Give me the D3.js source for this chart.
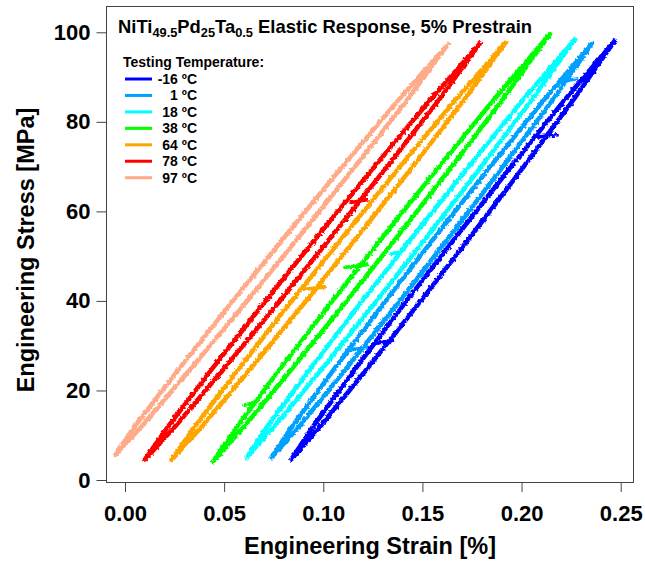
<!DOCTYPE html>
<html><head><meta charset="utf-8">
<script src="https://cdn.jsdelivr.net/npm/d3@7"></script>
<style>
body{margin:0;background:#fff}
text{font-family:"Liberation Sans",Arial,Helvetica,sans-serif;font-weight:bold;fill:#000}
</style>
</head><body>
<svg id="chart" width="645" height="562"></svg>
<script>
// ---- data ----
const seriesLabels = ["-16 ºC", "1 ºC", "18 ºC", "38 ºC", "64 ºC", "78 ºC", "97 ºC"];
const seriesColors = ["#0000ff", "#00a0ff", "#00ffff", "#00ff00", "#ffa500", "#ff0000", "#ffaa88"];
const stressBottom = [4.7, 5.1, 5.1, 4.2, 4.5, 4.6, 5.6];
const stressTop    = [98.1, 97.4, 98.5, 99.6, 97.7, 97.5, 97.4];
const stressMid    = [12, 25, 40, 55, 70, 85];
// strain at [bottom, 12, 25, 40, 55, 70, 85, top] MPa
const loadStrain = [
  [0.0840, 0.0985, 0.1224, 0.1492, 0.1754, 0.2011, 0.2263, 0.2470],
  [0.0740, 0.0879, 0.1118, 0.1386, 0.1648, 0.1906, 0.2159, 0.2353],
  [0.0614, 0.0754, 0.0997, 0.1269, 0.1535, 0.1797, 0.2053, 0.2270],
  [0.0445, 0.0602, 0.0845, 0.1118, 0.1385, 0.1648, 0.1905, 0.2143],
  [0.0235, 0.0389, 0.0636, 0.0913, 0.1184, 0.1451, 0.1712, 0.1920],
  [0.0101, 0.0254, 0.0502, 0.0781, 0.1053, 0.1322, 0.1585, 0.1790],
  [-0.0050, 0.0085, 0.0335, 0.0616, 0.0890, 0.1160, 0.1425, 0.1630]
];
const unloadStrain = [
  [0.0840, 0.0949, 0.1164, 0.1420, 0.1682, 0.1947, 0.2219, 0.2470],
  [0.0740, 0.0843, 0.1058, 0.1314, 0.1576, 0.1842, 0.2115, 0.2353],
  [0.0614, 0.0718, 0.0937, 0.1197, 0.1463, 0.1733, 0.2009, 0.2270],
  [0.0445, 0.0566, 0.0785, 0.1046, 0.1313, 0.1584, 0.1861, 0.2143],
  [0.0235, 0.0353, 0.0576, 0.0841, 0.1112, 0.1387, 0.1668, 0.1920],
  [0.0101, 0.0218, 0.0442, 0.0709, 0.0981, 0.1258, 0.1541, 0.1790],
  [-0.0050, 0.0049, 0.0275, 0.0544, 0.0818, 0.1096, 0.1381, 0.1630]
];
// short horizontal excursions: [series index, stress, strain start, strain end]
const spikes = [
  [0, 76.5, 0.206, 0.218], [0, 30.5, 0.126, 0.135],
  [1, 29.0, 0.112, 0.122], [1, 89.0, 0.219, 0.228],
  [2, 50.5, 0.134, 0.140],
  [3, 47.5, 0.111, 0.122], [3, 16.7, 0.060, 0.065],
  [4, 42.5, 0.088, 0.101],
  [5, 62.0, 0.114, 0.122]
];
const xTicks = [0, 0.05, 0.10, 0.15, 0.20, 0.25];
const yTicks = [0, 20, 40, 60, 80, 100];

// ---- layout ----
const svg = d3.select("#chart");
const frame = {left: 106.5, right: 633.5, top: 6.5, bottom: 482.5};
const x = d3.scaleLinear().domain([0, 0.25]).range([125, 620.7]);
const y = d3.scaleLinear().domain([0, 100]).range([480, 32.3]);

// jagged look for noisy measurement traces
const defs = svg.append("defs");
const f = defs.append("filter").attr("id", "rough")
  .attr("x", "-5%").attr("y", "-5%").attr("width", "110%").attr("height", "110%");
f.append("feTurbulence").attr("type", "fractalNoise").attr("baseFrequency", 0.4).attr("numOctaves", 1).attr("seed", 3).attr("result", "n");
f.append("feDisplacementMap").attr("in", "SourceGraphic").attr("in2", "n").attr("scale", 4).attr("xChannelSelector", "R").attr("yChannelSelector", "G");

svg.append("rect").attr("x", frame.left).attr("y", frame.top)
  .attr("width", frame.right - frame.left).attr("height", frame.bottom - frame.top)
  .attr("fill", "none").attr("stroke", "#444").attr("stroke-width", 1);

const line = d3.line().x(d => x(d[0])).y(d => y(d[1]));
const g = svg.append("g").attr("filter", "url(#rough)");
seriesLabels.forEach((lab, i) => {
  const stresses = [stressBottom[i], ...stressMid, stressTop[i]];
  const up = stresses.map((s, k) => [loadStrain[i][k], s]);
  const down = stresses.map((s, k) => [unloadStrain[i][k], s]).reverse();
  g.append("path").attr("d", line(up.concat(down)))
    .attr("fill", "none").attr("stroke", seriesColors[i]).attr("stroke-width", 4.6)
    .attr("stroke-linejoin", "round").attr("stroke-linecap", "round");
});
spikes.forEach(([i, s, a, b]) => {
  g.append("path").attr("d", line([[a, s], [b, s + 0.6]]))
    .attr("stroke", seriesColors[i]).attr("stroke-width", 3.5).attr("stroke-linecap", "round");
});

// axes
const xAxis = svg.append("g").attr("transform", `translate(0,${frame.bottom - 0.5})`)
  .call(d3.axisBottom(x).tickValues(xTicks).tickFormat(d3.format(".2f")).tickSize(10).tickPadding(13));
const yAxis = svg.append("g").attr("transform", `translate(${frame.left},0)`)
  .call(d3.axisLeft(y).tickValues(yTicks).tickSize(10).tickPadding(6));
[xAxis, yAxis].forEach(a => {
  a.select(".domain").remove();
  a.selectAll(".tick line").attr("stroke", "#444");
  a.selectAll("text").style("font-size", "22px").attr("fill", "#000");
});

svg.append("text").attr("x", 370).attr("y", 554).attr("text-anchor", "middle")
  .style("font-size", "23.5px").text("Engineering Strain [%]");
svg.append("text").attr("transform", "translate(34,250) rotate(-90)").attr("text-anchor", "middle")
  .style("font-size", "23.5px").text("Engineering Stress [MPa]");

// title with subscripts
const titleParts = [["NiTi", 0], ["49.5", 1], ["Pd", 0], ["25", 1], ["Ta", 0], ["0.5", 1], [" Elastic Response, 5% Prestrain", 0]];
const t = svg.append("text").attr("x", 118).attr("y", 33).style("font-size", "18.4px");
titleParts.forEach(([s, sub], k) => {
  const prevSub = k > 0 && titleParts[k - 1][1];
  t.append("tspan").text(s).style("font-size", sub ? "12.8px" : "18.4px")
    .attr("dy", sub && !prevSub ? 4 : (!sub && prevSub ? -4 : 0));
});

// legend
svg.append("text").attr("x", 123).attr("y", 67).style("font-size", "14px").text("Testing Temperature:");
seriesLabels.forEach((lab, i) => {
  const ly = 79 + i * 16.45;
  svg.append("line").attr("x1", 125).attr("x2", 152).attr("y1", ly).attr("y2", ly)
    .attr("stroke", seriesColors[i]).attr("stroke-width", 3);
  svg.append("text").attr("x", 197).attr("y", ly + 5).attr("text-anchor", "end")
    .style("font-size", "14px").text(lab);
});
</script>
</body></html>
